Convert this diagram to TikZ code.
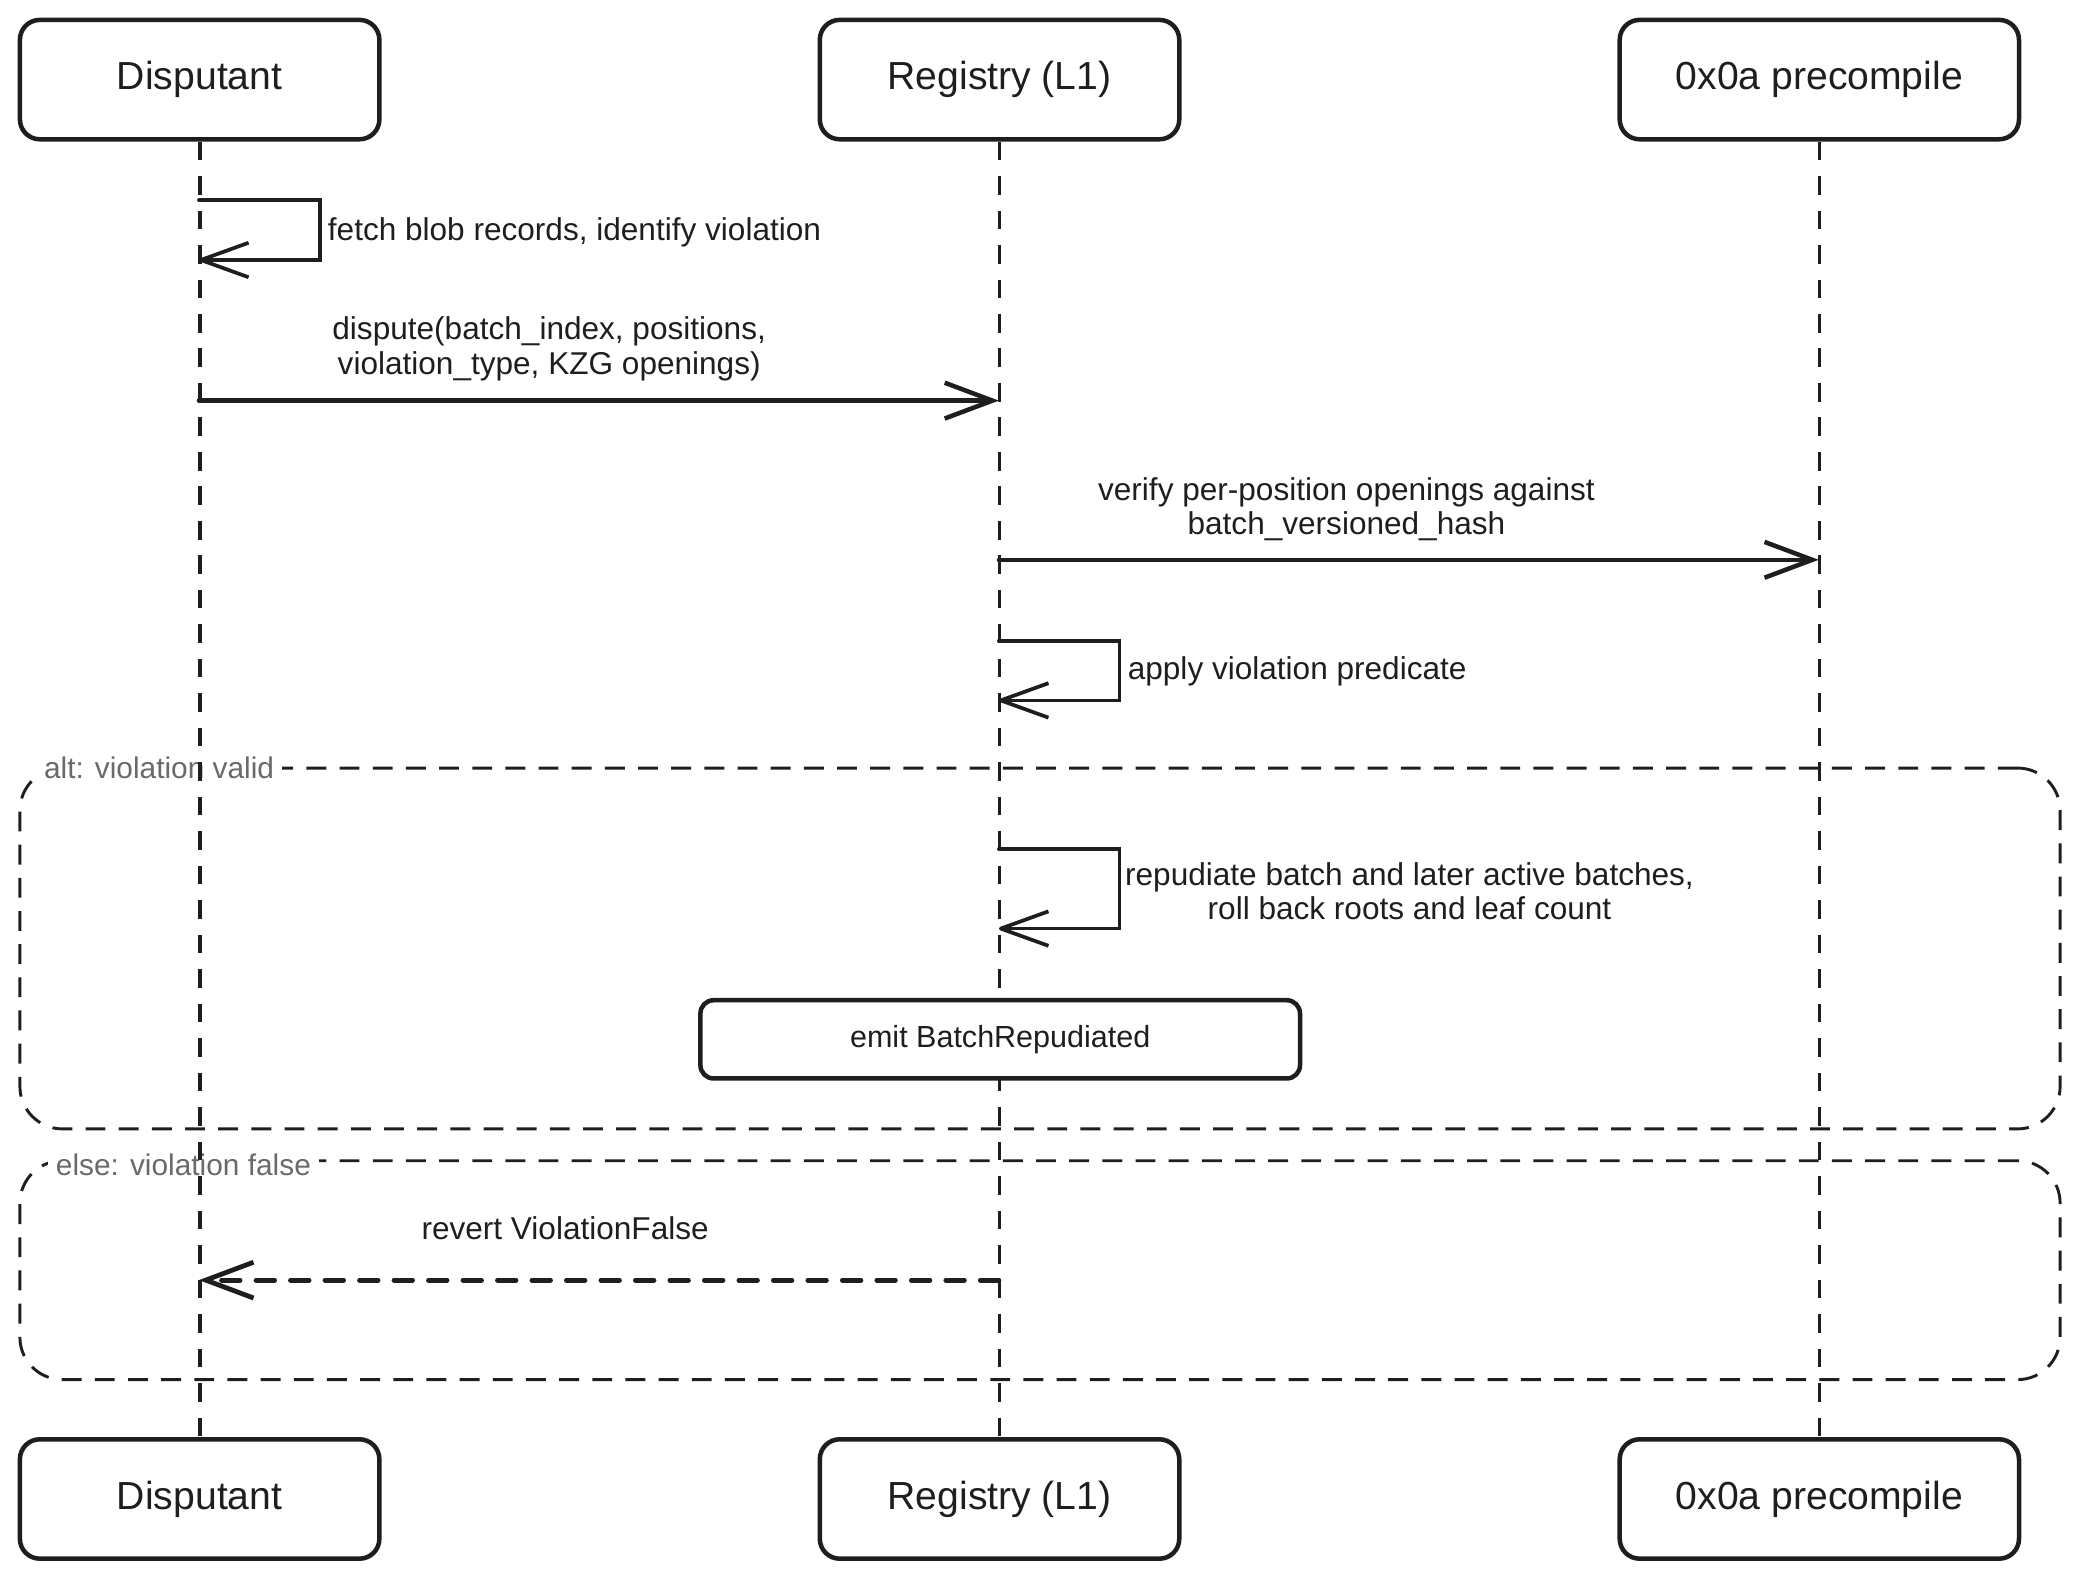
\documentclass[tikz,border=0pt]{standalone}
\usepackage{fontspec}
\setmainfont{Liberation Sans}
\usetikzlibrary{arrows.meta}
\definecolor{ink}{HTML}{1E1E1E}
\definecolor{labelgray}{HTML}{6A6A6A}
\begin{document}
\begin{tikzpicture}[x=1pt,y=-1pt,
  actor/.style={draw=ink, line width=3.4pt, rounded corners=15pt, fill=white,
    minimum height=90pt, inner sep=0pt, text=ink, font=\fontsize{29.5}{34}\selectfont},
  lifeline/.style={draw=ink, line width=2.8pt, dash pattern=on 14pt off 12pt},
  frame/.style={draw=ink, line width=2.2pt, dash pattern=on 15pt off 10pt,
    rounded corners=32pt, inner sep=0pt},
  framelabel/.style={fill=white, text=labelgray, inner xsep=6pt, inner ysep=2pt,
    font=\fontsize{22.5}{26}\selectfont},
  msg/.style={draw=ink, line width=3.4pt, line cap=round, line join=round,
    -{Straight Barb[length=36pt,width=27pt]}},
  selfmsg/.style={draw=ink, line width=2.8pt, line cap=round, line join=miter,
    -{Straight Barb[length=36pt,width=26pt,line join=round]}},
  retmsg/.style={msg, dash pattern=on 14pt off 12pt, line width=3.6pt},
  msglabel/.style={text=ink, align=center, inner sep=0pt,
    font=\fontsize{23.8}{26}\selectfont},
  notebox/.style={draw=ink, line width=3.4pt, rounded corners=10pt, fill=white,
    minimum width=452pt, minimum height=59pt, inner sep=0pt, text=ink,
    font=\fontsize{23}{27}\selectfont}
]
\useasboundingbox (0,0) rectangle (1568,1191);

% frames (behind)
\node[frame, minimum width=1538pt, minimum height=272pt] (alt) at (784,715) {};
\node[framelabel, anchor=west] (altlabel) at (27,579) {alt: violation valid};
\node[frame, minimum width=1538pt, minimum height=165pt] (else) at (784,957.5) {};
\node[framelabel, anchor=west] (elselabel) at (36,878) {else: violation false};

% actors
\node[actor, minimum width=271pt] (topD) at (150.5,60) {Disputant};
\node[actor, minimum width=271pt] (topR) at (753.5,60) {Registry (L1)};
\node[actor, minimum width=301pt] (topP) at (1371.5,60) {0x0a precompile};
\node[actor, minimum width=271pt] (botD) at (150.5,1130) {Disputant};
\node[actor, minimum width=271pt] (botR) at (753.5,1130) {Registry (L1)};
\node[actor, minimum width=301pt] (botP) at (1371.5,1130) {0x0a precompile};

% lifelines
\draw[lifeline] (topD.south) -- (botD.north);
\draw[lifeline] (topR.south) -- (botR.north);
\draw[lifeline] (topP.south) -- (botP.north);

% points on lifelines
\coordinate (D1a) at (150,151);
\coordinate (D1b) at (150,196);
\coordinate (D2) at (150,302);
\coordinate (R2) at (753,302);
\coordinate (R3) at (753,422);
\coordinate (P3) at (1371,422);
\coordinate (R4a) at (753,483);
\coordinate (R4b) at (753,528);
\coordinate (R6a) at (753,640);
\coordinate (R6b) at (753,700);
\coordinate (R9) at (753,965);
\coordinate (D9) at (150,965);

% 1: self message on Disputant
\draw[selfmsg] (D1a) -- ++(91,0) |- (D1b);
\node[msglabel, anchor=west] (l1) at (247,175) {fetch blob records, identify violation};

% 2: dispute
\draw[msg] (D2) -- (R2);
\node[msglabel] (l2) at (414,263) {dispute(batch\_index, positions,\\violation\_type, KZG openings)};

% 3: verify
\draw[msg] (R3) -- (P3);
\node[msglabel] (l3) at (1015,384) {verify per-position openings against\\batch\_versioned\_hash};

% 4: apply violation predicate
\draw[selfmsg] (R4a) -- ++(91,0) |- (R4b);
\node[msglabel, anchor=west] (l4) at (850,506) {apply violation predicate};

% 6: repudiate
\draw[selfmsg] (R6a) -- ++(91,0) |- (R6b);
\node[msglabel, anchor=west] (l6) at (848,672) {repudiate batch and later active batches,\\roll back roots and leaf count};

% 7: emit
\node[notebox] (emit) at (754,783.5) {emit BatchRepudiated};

% 9: revert
\draw[retmsg] (R9) -- (D9);
\node[msglabel] (l9) at (426,926) {revert ViolationFalse};
\end{tikzpicture}
\end{document}
